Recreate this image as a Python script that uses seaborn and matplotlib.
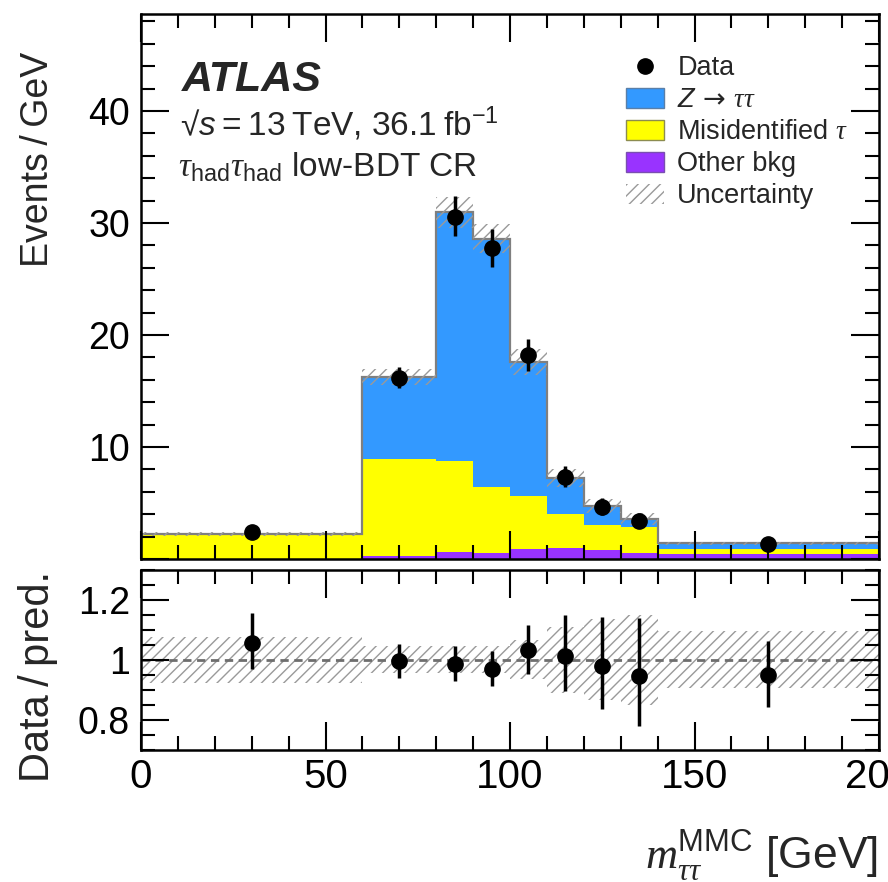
import numpy as np
import pandas as pd
import matplotlib
matplotlib.use("Agg")
import matplotlib.pyplot as plt
import seaborn as sns
from matplotlib.lines import Line2D
from matplotlib.patches import Patch
from matplotlib.ticker import MultipleLocator, FixedLocator, FixedFormatter

# ---- data (Events / GeV per bin) ----
bin_edges = [0, 60, 80, 90, 100, 110, 120, 130, 140, 200]
ztautau = [0.15, 7.32, 22.17, 22.14, 12.0, 3.15, 1.69, 0.74, 0.51]
misid = [2.07, 8.66, 8.18, 5.96, 4.7, 3.07, 2.24, 2.33, 0.47]
other = [0.03, 0.27, 0.6, 0.5, 0.9, 0.98, 0.8, 0.5, 0.42]
rel_unc = [0.077, 0.045, 0.045, 0.045, 0.065, 0.11, 0.135, 0.15, 0.095]
data = [2.38, 16.2, 30.55, 27.75, 18.2, 7.3, 4.63, 3.38, 1.33]
data_err_up = [0.22, 0.94, 1.86, 1.74, 1.43, 0.98, 0.78, 0.69, 0.16]
data_err_dn = [0.20, 0.91, 1.73, 1.66, 1.41, 0.84, 0.68, 0.59, 0.15]

proc_z = r"$Z\,\mathsf{\rightarrow}\,\mathcal{\tau}\mathcal{\tau}$"
proc_mis = r"Misidentified $\mathcal{\tau}$"
proc_oth = "Other bkg"
colors = {proc_z: "#3399ff", proc_mis: "#ffff00", proc_oth: "#9933ff"}
hatch_grey = "#9a9a9a"

sns.set_style("ticks")
plt.rcParams["font.family"] = ["Liberation Sans", "DejaVu Sans"]
plt.rcParams["mathtext.fontset"] = "custom"
plt.rcParams["mathtext.rm"] = "Liberation Sans"
plt.rcParams["mathtext.it"] = "Liberation Sans:italic"
plt.rcParams["mathtext.bf"] = "Liberation Sans:bold"
plt.rcParams["mathtext.cal"] = "Liberation Serif:italic"
plt.rcParams["mathtext.sf"] = "DejaVu Sans"
plt.rcParams["hatch.color"] = hatch_grey
plt.rcParams["hatch.linewidth"] = 1.0

edges = np.array(bin_edges, dtype=float)
centers = 0.5 * (edges[:-1] + edges[1:])
total = np.array(ztautau) + np.array(misid) + np.array(other)
unc = np.array(rel_unc)

df = pd.DataFrame({
    "mass": np.tile(centers, 3),
    "rate": ztautau + misid + other,
    "process": [proc_z] * len(centers) + [proc_mis] * len(centers) + [proc_oth] * len(centers),
})

fig = plt.figure(figsize=(8.88, 8.82), dpi=100)
ax = fig.add_axes([141 / 888, 1 - 559 / 882, 738 / 888, 545 / 882])
rax = fig.add_axes([141 / 888, 1 - 750 / 882, 738 / 888, 180 / 882])

# stacked backgrounds
sns.histplot(data=df, x="mass", weights="rate", hue="process",
             hue_order=[proc_z, proc_mis, proc_oth], bins=bin_edges,
             multiple="stack", element="step", fill=True, alpha=1,
             linewidth=0, palette=colors, legend=False, ax=ax)
ax.stairs(total, edges, baseline=None, color="#7f7f7f", linewidth=1.6, zorder=2)

# uncertainty band
ext = np.append(total, total[-1])
eu = np.append(unc, unc[-1])
ax.fill_between(edges, ext * (1 - eu), ext * (1 + eu), step="post",
                facecolor="none", edgecolor=hatch_grey, hatch="///",
                linewidth=0, zorder=2.1)

# data
ax.errorbar(centers, data, yerr=[data_err_dn, data_err_up], fmt="o", color="black",
            markersize=11, elinewidth=2.5, capsize=0, zorder=4)

ax.set_xlim(0, 200)
ax.set_ylim(0, 48.66)
ax.set_xlabel("")
ax.set_ylabel("")
ax.yaxis.set_major_locator(FixedLocator([0, 10, 20, 30, 40]))
ax.yaxis.set_major_formatter(FixedFormatter(["", "10", "20", "30", "40"]))
ax.yaxis.set_minor_locator(MultipleLocator(2))
ax.xaxis.set_major_locator(MultipleLocator(50))
ax.xaxis.set_minor_locator(MultipleLocator(10))
ax.tick_params(axis="x", labelbottom=False)

# ratio panel
ratio = np.array(data) / total
rerr_up = np.array(data_err_up) / total
rerr_dn = np.array(data_err_dn) / total
rax.fill_between(edges, 1 - eu, 1 + eu, step="post", facecolor="none",
                 edgecolor=hatch_grey, hatch="///", linewidth=0, zorder=1)
rax.axhline(1.0, color="#6e6e6e", linestyle=(0, (3, 2)), linewidth=2, zorder=2)
rax.errorbar(centers, ratio, yerr=[rerr_dn, rerr_up], fmt="o", color="black",
             markersize=11, elinewidth=2.5, capsize=0, zorder=4)
rax.set_xlim(0, 200)
rax.set_ylim(0.7, 1.3)
rax.yaxis.set_major_locator(FixedLocator([0.8, 1.0, 1.2]))
rax.yaxis.set_major_formatter(FixedFormatter(["0.8", "1", "1.2"]))
rax.yaxis.set_minor_locator(MultipleLocator(0.05))
rax.xaxis.set_major_locator(FixedLocator([0, 50, 100, 150, 200]))
rax.xaxis.set_major_formatter(FixedFormatter(["0", "50", "100", "150", "200"]))
rax.xaxis.set_minor_locator(MultipleLocator(10))

for a in (ax, rax):
    a.tick_params(which="both", direction="in", top=True, right=True, width=1.5, colors="black")
    a.tick_params(which="major", length=20)
    a.tick_params(which="minor", length=10)
    for s in a.spines.values():
        s.set_linewidth(1.8)
        s.set_color("black")
    a.set_axisbelow(False)

ax.tick_params(axis="y", labelsize=27, pad=8)
rax.tick_params(axis="y", labelsize=27, pad=8)
rax.tick_params(axis="x", labelsize=29, pad=6)
rax.set_xlabel("")
rax.set_ylabel("")

# axis titles
fig.text(38 / 888, 1 - 52 / 882, "Events\u2009/\u2009GeV", rotation=90, ha="center", va="top", fontsize=27)
fig.text(38 / 888, 1 - 677 / 882, "Data\u2009/\u2009pred.", rotation=90, ha="center", va="center", fontsize=30)
fig.text(878 / 888, 1 - 856 / 882, r"$\mathcal{m}_{\mathcal{\tau}\mathcal{\tau}}^{\mathrm{MMC}}$ [GeV]",
         ha="right", va="center", fontsize=32)

# labels
ax.text(0.0556, 0.8587, "ATLAS", transform=ax.transAxes, fontsize=31,
        fontweight="bold", fontstyle="italic", va="baseline", ha="left")
ax.text(0.0530, 0.776, "\u221a$s$\u2009=\u200913\u2009TeV, 36.1\u2009fb$^{-1}$", transform=ax.transAxes,
        fontsize=24, va="baseline", ha="left")
ax.text(0.0500, 0.701, r"$\mathcal{\tau}_{\mathrm{had}}\mathcal{\tau}_{\mathrm{had}}$ low-BDT CR",
        transform=ax.transAxes, fontsize=24, va="baseline", ha="left")

handles = [
    Line2D([], [], marker="o", color="black", linestyle="none", markersize=11),
    Patch(facecolor=colors[proc_z], edgecolor="#5a7fa8", linewidth=1),
    Patch(facecolor=colors[proc_mis], edgecolor="#8c8c50", linewidth=1),
    Patch(facecolor=colors[proc_oth], edgecolor="#7a4fb0", linewidth=1),
    Patch(facecolor="none", edgecolor=hatch_grey, hatch="///", linewidth=0),
]
labels = ["Data", proc_z, proc_mis, proc_oth, "Uncertainty"]
ax.legend(handles, labels, loc="upper left", bbox_to_anchor=(0.657, 0.924),
          frameon=False, fontsize=19.5, handlelength=1.42, handleheight=0.73,
          handletextpad=0.48, labelspacing=0.22, borderpad=0, borderaxespad=0)

fig.savefig("out.png", dpi=100)
